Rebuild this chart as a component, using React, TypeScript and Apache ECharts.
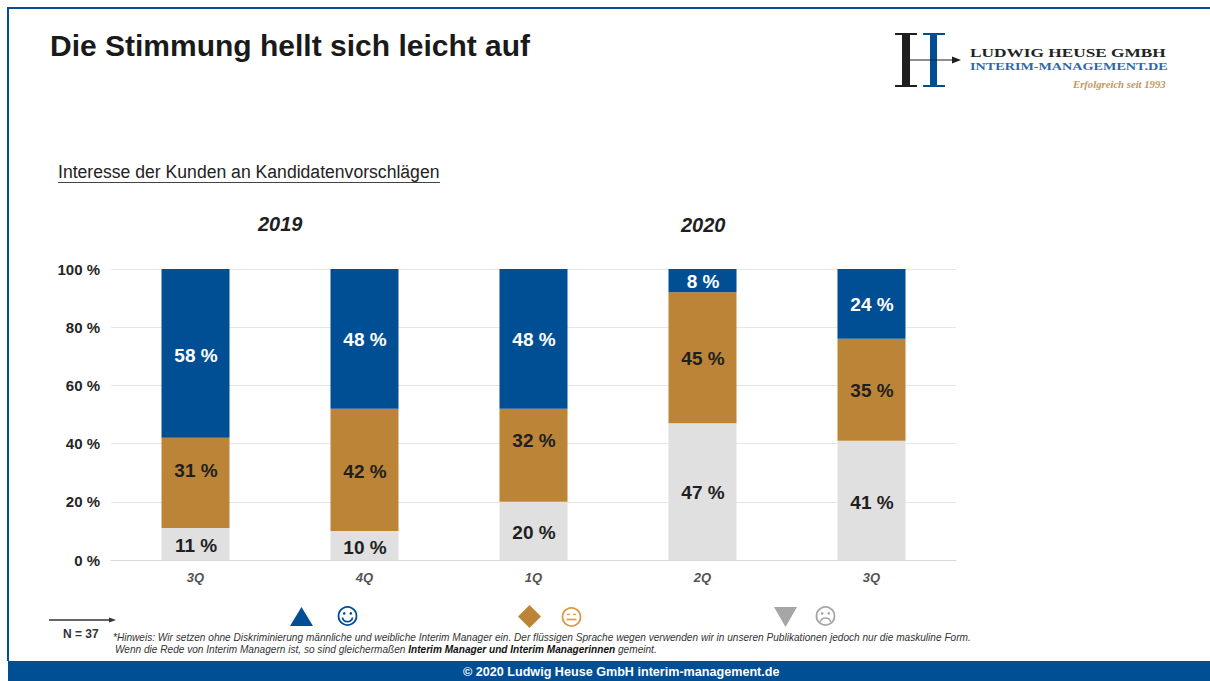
import React, { useEffect, useRef } from "react";
import * as echarts from "echarts";

const categories = ["3Q", "4Q", "1Q", "2Q", "3Q"];
const negativeValues = [11, 10, 20, 47, 41];
const neutralValues = [31, 42, 32, 45, 35];
const positiveValues = [58, 48, 48, 8, 24];
const yearLabels = ["2019", "2020"];

const BLUE = "#004F95";
const BROWN = "#BC8436";
const GREY = "#E0E0E0";
const DARK = "#1F1F1F";
const FONT = "'Liberation Sans', Arial, sans-serif";
// The reference's labels are not all centred in their segments.
const negativeLabelShift = [2, 2, 2, 1, 2];
const neutralLabelShift = [-12, 2, -15, 1, 1];
const positiveLabelShift = [2, 1, 1, 1, 1];

function txt(x: number, y: number, text: string, font: any, extra: any = {}) {
  const { scaleX, scaleY, ...style } = extra;
  return {
    type: "text", x, y, scaleX: scaleX ?? 1, scaleY: scaleY ?? 1, silent: true,
    style: { text, fontFamily: FONT, fill: DARK, ...font, ...style },
  };
}

function rect(x: number, y: number, width: number, height: number, fill: string) {
  return { type: "rect", shape: { x, y, width, height }, style: { fill }, silent: true };
}

function line(x1: number, y1: number, x2: number, y2: number, stroke: string, lineWidth = 1) {
  return { type: "line", shape: { x1, y1, x2, y2 }, style: { stroke, lineWidth }, silent: true };
}

function poly(points: number[][], fill: string) {
  return { type: "polygon", shape: { points }, style: { fill }, silent: true };
}

function face(cx: number, cy: number, color: string, kind: "smile" | "flat" | "sad") {
  const items: any[] = [
    { type: "circle", shape: { cx, cy, r: 9 }, style: { fill: "none", stroke: color, lineWidth: 1.8 }, silent: true },
  ];
  const mouth = { fill: "none", stroke: color, lineWidth: 1.6 };
  if (kind === "flat") {
    items.push(line(cx - 4.6, cy - 2.6, cx - 1.6, cy - 2.6, color, 1.3));
    items.push(line(cx + 1.6, cy - 2.6, cx + 4.6, cy - 2.6, color, 1.3));
    items.push(line(cx - 5, cy + 2.5, cx + 5, cy + 2.5, color, 1.6));
    return items;
  }
  items.push({ type: "circle", shape: { cx: cx - 3.3, cy: cy - 2.6, r: 1.3 }, style: { fill: color }, silent: true });
  items.push({ type: "circle", shape: { cx: cx + 3.3, cy: cy - 2.6, r: 1.3 }, style: { fill: color }, silent: true });
  if (kind === "smile") {
    items.push({ type: "arc", shape: { cx, cy: cy + 0.5, r: 5.2, startAngle: 0.2, endAngle: Math.PI - 0.2 }, style: mouth, silent: true });
  } else {
    items.push({ type: "arc", shape: { cx, cy: cy + 7.5, r: 5.5, startAngle: Math.PI + 0.3, endAngle: 2 * Math.PI - 0.3 }, style: mouth, silent: true });
  }
  return items;
}

function barSeries(name: string, data: number[], color: string, labelColor: string, shifts: number[]) {
  return {
    name,
    type: "bar",
    stack: "total",
    data: data.map((value, i) => ({ value, label: { offset: [0.5, shifts[i]] } })),
    barWidth: 68,
    itemStyle: { color },
    label: {
      show: true,
      position: "inside",
      formatter: "{c} %",
      color: labelColor,
      fontFamily: FONT,
      fontWeight: "bold",
      fontSize: 19,
    },
  };
}

export default function App() {
  const ref = useRef<HTMLDivElement>(null);

  useEffect(() => {
    document.body.style.margin = "0";
    const chart = echarts.init(ref.current!, null, { renderer: "svg" });
    const graphic: any[] = [
      // frame
      rect(0, 0, 1210, 681, "#FFFFFF"),
      rect(7, 7, 1203, 2, BLUE),
      rect(7, 7, 2, 654, BLUE),
      rect(8, 661, 1202, 20, BLUE),
      // headings
      txt(50, 30, "Die Stimmung hellt sich leicht auf", { fontSize: 30, fontWeight: "bold", fill: "#1A1A1A" }),
      txt(58, 163, "Interesse der Kunden an Kandidatenvorschlägen", { fontSize: 17.6, fill: "#222222" }),
      line(58, 182.5, 440, 182.5, "#444444", 1),
      txt(258, 214, yearLabels[0], { fontSize: 20, fontWeight: "bold", fontStyle: "italic" }),
      txt(681, 215, yearLabels[1], { fontSize: 20, fontWeight: "bold", fontStyle: "italic" }),
      // logo
      rect(895, 33, 22, 2, DARK), rect(895, 85, 22, 2, DARK), rect(902, 35, 8, 50, DARK),
      rect(923, 33, 22, 2, BLUE), rect(923, 85, 22, 2, BLUE), rect(930, 35, 7, 50, BLUE),
      line(910, 60, 955, 60, DARK, 1.2),
      poly([[952, 56.5], [961, 60], [952, 63.5]], DARK),
      txt(970, 46, "LUDWIG HEUSE GMBH", { fontSize: 13, fontWeight: "bold", fontFamily: "'Liberation Serif', serif", fill: "#222222" }, { scaleX: 1.33 }),
      txt(970, 61, "INTERIM-MANAGEMENT.DE", { fontSize: 10.5, fontWeight: "bold", fontFamily: "'Liberation Serif', serif", fill: "#2F67A8" }, { scaleX: 1.35 }),
      txt(1073, 78, "Erfolgreich seit 1993", { fontSize: 10.7, fontStyle: "italic", fontWeight: "bold", fontFamily: "'Liberation Serif', serif", fill: "#C4975A" }),
      // legend
      line(49, 620, 110, 620, "#333333", 1.4),
      poly([[109, 617.5], [116, 620], [109, 622.5]], "#333333"),
      txt(63, 628, "N = 37", { fontSize: 12, fontWeight: "bold", fill: "#333333" }),
      poly([[290, 626], [313, 626], [301.5, 607]], BLUE),
      ...face(347.5, 616, BLUE, "smile"),
      poly([[529.5, 605], [541, 616.5], [529.5, 628], [518, 616.5]], BROWN),
      ...face(571.5, 617, "#D9984A", "flat"),
      poly([[774, 607], [797, 607], [785.5, 627]], "#A6A6A6"),
      ...face(825.5, 616, "#A6A6A6", "sad"),
      // note
      txt(113, 632, "*Hinweis: Wir setzen ohne Diskriminierung männliche und weibliche Interim Manager ein. Der flüssigen Sprache wegen verwenden wir in unseren Publikationen jedoch nur die maskuline Form.", { fontSize: 10.1, fontStyle: "italic", fill: "#333333" }),
      {
        type: "text", x: 115, y: 644, silent: true,
        style: {
          text: "Wenn die Rede von Interim Managern ist, so sind gleichermaßen {b|Interim Manager und Interim Managerinnen} gemeint.",
          fontFamily: FONT, fontSize: 10.1, fontStyle: "italic", fill: "#333333",
          rich: { b: { fontFamily: FONT, fontSize: 10.1, fontStyle: "italic", fontWeight: "bold", fill: "#111111" } },
        },
      },
      // footer
      txt(463, 665, "© 2020 Ludwig Heuse GmbH interim-management.de", { fontSize: 12.6, fontWeight: "bold", fill: "#FFFFFF" }),
    ];

    chart.setOption({
      animation: false,
      backgroundColor: "#FFFFFF",
      grid: { left: 111, right: 254, top: 269, bottom: 121, containLabel: false },
      xAxis: {
        type: "category",
        data: categories,
        axisLine: { show: true, lineStyle: { color: "#D9D9D9" } },
        axisTick: { show: false },
        axisLabel: { color: "#555555", fontFamily: FONT, fontStyle: "italic", fontWeight: "bold", fontSize: 13, margin: 11 },
      },
      yAxis: {
        type: "value",
        min: 0,
        max: 100,
        interval: 20,
        axisLine: { show: false },
        axisTick: { show: false },
        splitLine: { lineStyle: { color: "#E6E6E6" } },
        axisLabel: { color: "#262626", fontFamily: FONT, fontWeight: "bold", fontSize: 15, margin: 11, padding: [0, 0, 2, 0], formatter: "{value} %" },
      },
      series: [
        barSeries("Negativ", negativeValues, GREY, DARK, negativeLabelShift),
        barSeries("Neutral", neutralValues, BROWN, DARK, neutralLabelShift),
        barSeries("Positiv", positiveValues, BLUE, "#FFFFFF", positiveLabelShift),
      ],
      graphic: { elements: graphic.map((g) => ({ ...g, z: -1 })) },
    });
    return () => chart.dispose();
  }, []);

  return <div ref={ref} style={{ width: 1210, height: 681 }} />;
}
